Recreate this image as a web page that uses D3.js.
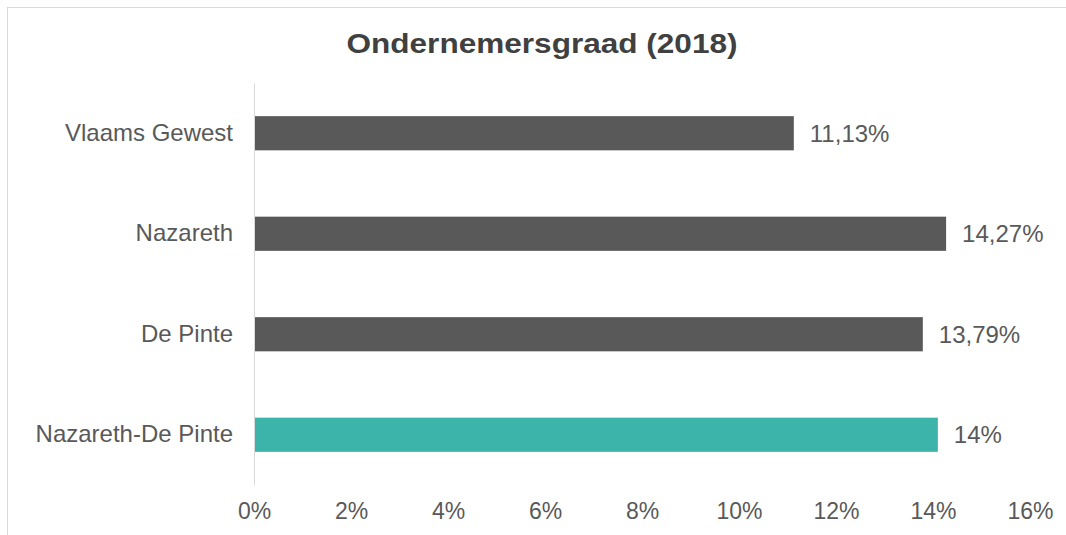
<!DOCTYPE html>
<html>
<head>
<meta charset="utf-8">
<script src="https://cdn.jsdelivr.net/npm/d3@7"></script>
<style>
  body { margin: 0; background: #fff; }
  text { font-family: Arial, "Liberation Sans", sans-serif; }
</style>
</head>
<body>
<script>
// chart data
var categories = ["Vlaams Gewest", "Nazareth", "De Pinte", "Nazareth-De Pinte"];
var values = [11.13, 14.27, 13.79, 14.1];
var valueLabels = ["11,13%", "14,27%", "13,79%", "14%"];
var tickValues = [0, 2, 4, 6, 8, 10, 12, 14, 16];
var tickLabels = ["0%", "2%", "4%", "6%", "8%", "10%", "12%", "14%", "16%"];

var width = 1066, height = 535;

var svg = d3.select("body").append("svg")
   .attr("width", width)
   .attr("height", height);

// outer frame
svg.append("rect")
   .attr("x", 7.5)
   .attr("y", 7.5)
   .attr("width", 1080)
   .attr("height", 560)
   .attr("fill", "none")
   .attr("stroke", "#d9d9d9");

// title
svg.append("text")
   .attr("x", 542)
   .attr("y", 53)
   .attr("text-anchor", "middle")
   .attr("font-size", 27)
   .attr("font-weight", "bold")
   .attr("fill", "#404040")
   .attr("textLength", 391)
   .attr("lengthAdjust", "spacingAndGlyphs")
   .text("Ondernemersgraad (2018)");

// scales
var x = d3.scaleLinear()
   .domain([0, 16])
   .range([254, 1030]);
var y = d3.scaleBand()
   .domain(categories)
   .range([83, 485])
   .paddingInner(0.66)
   .paddingOuter(0.33);

var data = categories.map(function(c, i) {
   return {name: c, value: values[i], label: valueLabels[i]};
});

// bars
svg.selectAll(".bar")
   .data(data)
   .enter().append("rect")
   .attr("class", "bar")
   .attr("x", x(0))
   .attr("y", function(d) { return y(d.name); })
   .attr("width", function(d) { return x(d.value) - x(0); })
   .attr("height", y.bandwidth())
   .attr("fill", function(d, i) { return i === categories.length - 1 ? "#3cb4aa" : "#595959"; });

// value labels
svg.selectAll(".val")
   .data(data)
   .enter().append("text")
   .attr("class", "val")
   .attr("x", function(d) { return x(d.value) + 16; })
   .attr("y", function(d) { return y(d.name) + y.bandwidth() / 2; })
   .attr("dy", "0.35em")
   .attr("font-size", 24)
   .attr("fill", "#595959")
   .text(function(d) { return d.label; });

// y axis (categories)
var yAxis = svg.append("g")
   .attr("transform", "translate(" + x(0) + ",0)")
   .call(d3.axisLeft(y).tickSize(0).tickPadding(21));
yAxis.select(".domain").attr("stroke", "#d9d9d9");
yAxis.selectAll("text")
   .attr("font-size", 24)
   .attr("fill", "#595959");

// x axis (percent labels only)
var xAxis = svg.append("g")
   .attr("transform", "translate(0,485)")
   .call(d3.axisBottom(x)
      .tickValues(tickValues)
      .tickSize(0)
      .tickPadding(18)
      .tickFormat(function(d, i) { return tickLabels[i]; }));
xAxis.select(".domain").remove();
xAxis.selectAll("text")
   .attr("font-size", 23)
   .attr("fill", "#595959");
</script>
</body>
</html>
